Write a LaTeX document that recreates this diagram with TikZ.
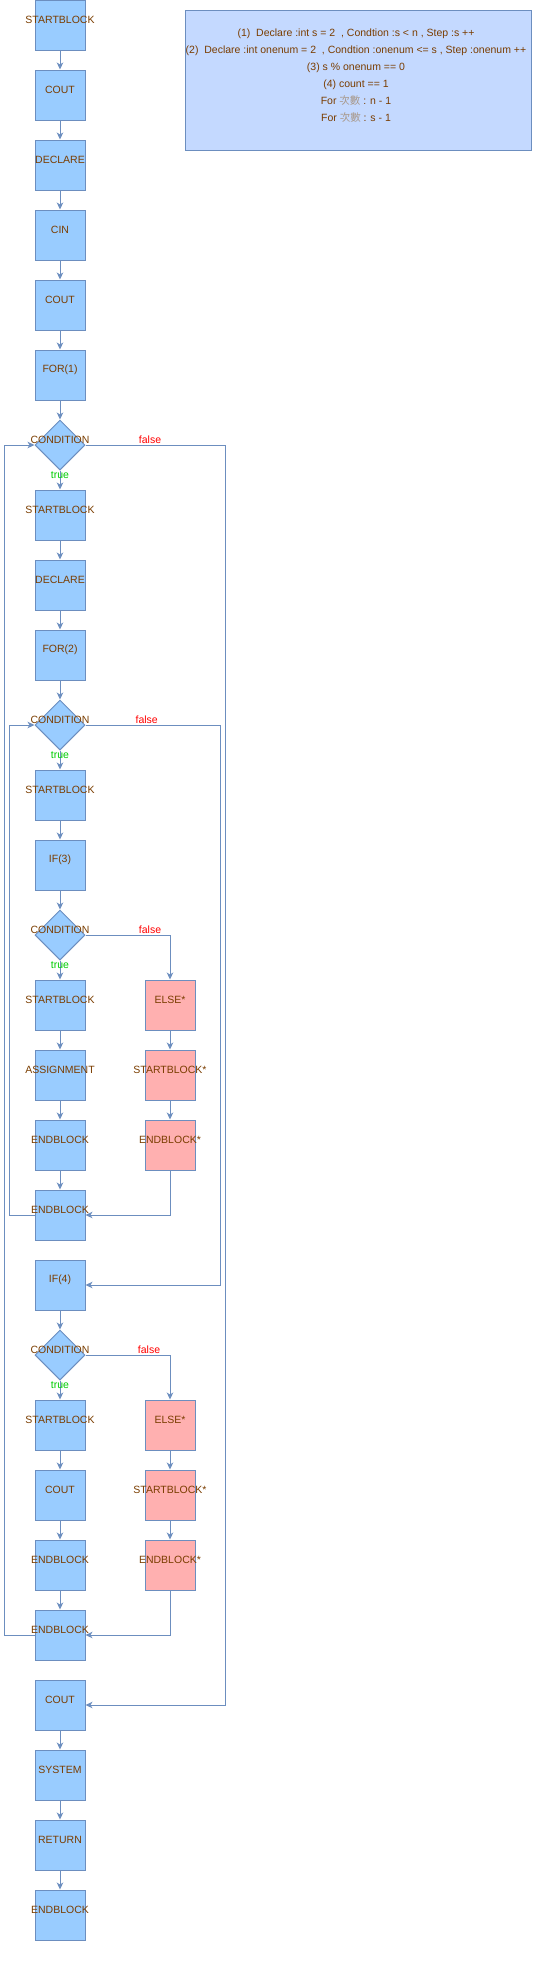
\documentclass[tikz,border=0pt]{standalone}
\usepackage{fontspec}
\setmainfont{Liberation Sans}
\newfontfamily\cjk{Noto Sans CJK TC}
\usetikzlibrary{shapes.geometric,arrows.meta}
\definecolor{bl}{HTML}{99CCFF}
\definecolor{pk}{HTML}{FFB0B0}
\definecolor{bd}{HTML}{6C8EBF}
\definecolor{nt}{HTML}{C4D9FF}
\definecolor{tx}{HTML}{7A3D00}
\definecolor{cj}{HTML}{A8988A}
\definecolor{ftc}{HTML}{FF0000}
\definecolor{ttc}{HTML}{00CC00}
\begin{document}
\begin{tikzpicture}[x=1pt,y=-1pt,
  base/.style={draw=bd, line width=1pt, inner sep=0pt, minimum width=50pt, minimum height=50pt},
  blk/.style={base, rectangle, fill=bl},
  alt/.style={base, rectangle, fill=pk},
  cond/.style={base, diamond, aspect=1, fill=bl},
  lbl/.style={text=tx, font=\fontsize{10.5}{12}\selectfont, yshift=5pt, inner sep=0pt},
  arr/.style={draw=bd, line width=1pt, -{Stealth[length=7pt,width=6.5pt,inset=2pt]}},
  ftxt/.style={text=ftc, font=\fontsize{10.5}{12}\selectfont, inner sep=0pt},
  ttxt/.style={text=ttc, font=\fontsize{10.5}{12}\selectfont, inner sep=0pt},
  notebox/.style={draw=bd, line width=1pt, fill=nt, rectangle, inner sep=0pt},
  notetxt/.style={text=tx, font=\fontsize{10.5}{17}\selectfont, align=center, inner sep=0pt}
]
\useasboundingbox (0,0) rectangle (536,1962);

% note
\node[notebox, minimum width=346pt, minimum height=140pt] (note) at (358,80) {};
\node[notetxt] (notet) at (356,76) {%
(1)\ \ Declare :int s = 2\ \ , Condtion :s < n , Step :s ++\\
(2)\ \ Declare :int onenum = 2\ \ , Condtion :onenum <= s , Step :onenum ++\\
(3) s \% onenum == 0\\
(4) count == 1\\
For {\cjk\color{cj}次數} : n - 1\\
For {\cjk\color{cj}次數} : s - 1};

% main column
\node[blk, label={[lbl]center:STARTBLOCK}] (s1) at (60,25) {};
\node[blk, label={[lbl]center:COUT}] (cout1) at (60,95) {};
\node[blk, label={[lbl]center:DECLARE}] (dec1) at (60,165) {};
\node[blk, label={[lbl]center:CIN}] (cin) at (60,235) {};
\node[blk, label={[lbl]center:COUT}] (cout2) at (60,305) {};
\node[blk, label={[lbl]center:FOR(1)}] (for1) at (60,375) {};
\node[cond, label={[lbl]center:CONDITION}] (c1) at (60,445) {};
\node[blk, label={[lbl]center:STARTBLOCK}] (s2) at (60,515) {};
\node[blk, label={[lbl]center:DECLARE}] (dec2) at (60,585) {};
\node[blk, label={[lbl]center:FOR(2)}] (for2) at (60,655) {};
\node[cond, label={[lbl]center:CONDITION}] (c2) at (60,725) {};
\node[blk, label={[lbl]center:STARTBLOCK}] (s3) at (60,795) {};
\node[blk, label={[lbl]center:IF(3)}] (if3) at (60,865) {};
\node[cond, label={[lbl]center:CONDITION}] (c3) at (60,935) {};
\node[blk, label={[lbl]center:STARTBLOCK}] (s4) at (60,1005) {};
\node[blk, label={[lbl]center:ASSIGNMENT}] (asg) at (60,1075) {};
\node[blk, label={[lbl]center:ENDBLOCK}] (eb1) at (60,1145) {};
\node[blk, label={[lbl]center:ENDBLOCK}] (eb2) at (60,1215) {};
\node[blk, label={[lbl]center:IF(4)}] (if4) at (60,1285) {};
\node[cond, label={[lbl]center:CONDITION}] (c4) at (60,1355) {};
\node[blk, label={[lbl]center:STARTBLOCK}] (s5) at (60,1425) {};
\node[blk, label={[lbl]center:COUT}] (cout3) at (60,1495) {};
\node[blk, label={[lbl]center:ENDBLOCK}] (eb3) at (60,1565) {};
\node[blk, label={[lbl]center:ENDBLOCK}] (eb4) at (60,1635) {};
\node[blk, label={[lbl]center:COUT}] (cout4) at (60,1705) {};
\node[blk, label={[lbl]center:SYSTEM}] (sys) at (60,1775) {};
\node[blk, label={[lbl]center:RETURN}] (ret) at (60,1845) {};
\node[blk, label={[lbl]center:ENDBLOCK}] (eb5) at (60,1915) {};

% else columns
\node[alt, label={[lbl]center:ELSE*}] (else1) at (170,1005) {};
\node[alt, label={[lbl]center:STARTBLOCK*}] (sb1) at (170,1075) {};
\node[alt, label={[lbl]center:ENDBLOCK*}] (ebs1) at (170,1145) {};
\node[alt, label={[lbl]center:ELSE*}] (else2) at (170,1425) {};
\node[alt, label={[lbl]center:STARTBLOCK*}] (sb2) at (170,1495) {};
\node[alt, label={[lbl]center:ENDBLOCK*}] (ebs2) at (170,1565) {};

% straight arrows
\draw[arr] (s1) -- (cout1);
\draw[arr] (cout1) -- (dec1);
\draw[arr] (dec1) -- (cin);
\draw[arr] (cin) -- (cout2);
\draw[arr] (cout2) -- (for1);
\draw[arr] (for1) -- (c1);
\draw[arr] (c1) -- (s2);
\draw[arr] (s2) -- (dec2);
\draw[arr] (dec2) -- (for2);
\draw[arr] (for2) -- (c2);
\draw[arr] (c2) -- (s3);
\draw[arr] (s3) -- (if3);
\draw[arr] (if3) -- (c3);
\draw[arr] (c3) -- (s4);
\draw[arr] (s4) -- (asg);
\draw[arr] (asg) -- (eb1);
\draw[arr] (eb1) -- (eb2);
\draw[arr] (if4) -- (c4);
\draw[arr] (c4) -- (s5);
\draw[arr] (s5) -- (cout3);
\draw[arr] (cout3) -- (eb3);
\draw[arr] (eb3) -- (eb4);
\draw[arr] (cout4) -- (sys);
\draw[arr] (sys) -- (ret);
\draw[arr] (ret) -- (eb5);
\draw[arr] (else1) -- (sb1);
\draw[arr] (sb1) -- (ebs1);
\draw[arr] (else2) -- (sb2);
\draw[arr] (sb2) -- (ebs2);

% branch / loop connectors
\draw[arr] (c1.east) -- ++(139.7,0) |- (cout4.east);
\draw[arr] (eb4.west) -- ++(-29.7,0) |- (c1.west);
\draw[arr] (c2.east) -- ++(134.7,0) |- (if4.east);
\draw[arr] (eb2.west) -- ++(-24.7,0) |- (c2.west);
\draw[arr] (c3.east) -| (else1.north);
\draw[arr] (ebs1.south) |- (eb2.east);
\draw[arr] (c4.east) -| (else2.north);
\draw[arr] (ebs2.south) |- (eb4.east);

% edge labels
\node[ftxt] (f1) at (150,440) {false};
\node[ftxt] (f2) at (146.7,720) {false};
\node[ftxt] (f3) at (150,930) {false};
\node[ftxt] (f4) at (149,1350) {false};
\node[ttxt] (t1) at (60,475) {true};
\node[ttxt] (t2) at (60,755) {true};
\node[ttxt] (t3) at (60,965) {true};
\node[ttxt] (t4) at (60,1385) {true};
\end{tikzpicture}
\end{document}
